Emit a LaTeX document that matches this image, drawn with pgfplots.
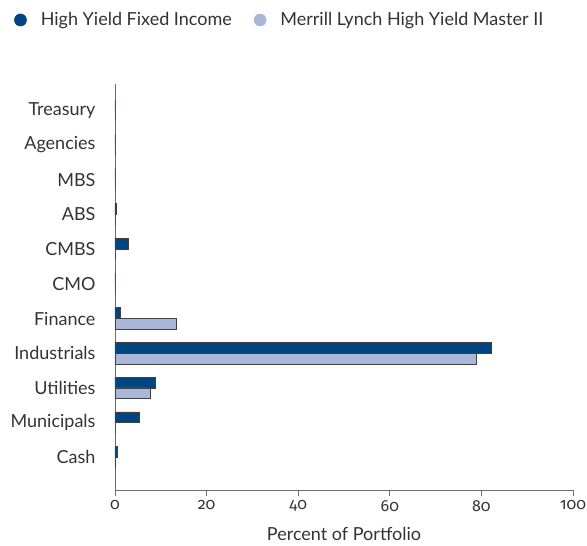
\documentclass[border=0pt]{standalone}
\usepackage{pgfplots}
\pgfplotsset{compat=1.18}
\usepackage{fontspec}
\setmainfont{Lato}
\newfontfamily\tickfont[Numbers=OldStyle]{Fira Sans}
\definecolor{hyfi}{RGB}{0,69,128}
\definecolor{mlhy}{RGB}{169,184,216}
\definecolor{txt}{RGB}{51,51,51}
\definecolor{axc}{RGB}{110,110,110}
\begin{document}
\begin{tikzpicture}
\begin{axis}[
  name=ax,
  scale only axis,
  width=458bp, height=406bp,
  xmin=0, xmax=100,
  ymin=-0.94, ymax=10.76,
  xbar,
  bar width=10.8bp,
  axis lines=left,
  axis line style={-, draw=axc, line width=0.8bp},
  xtick={0,20,40,60,80,100},
  xtick pos=bottom,
  tick align=outside,
  major tick length=6bp,
  xtick style={draw=axc, line width=0.8bp},
  ytick={0,...,10},
  yticklabels={Cash,Municipals,Utilities,Industrials,Finance,CMO,CMBS,ABS,MBS,Agencies,Treasury},
  ytick style={draw=none},
  yticklabel style={xshift=-10bp, font=\fontsize{18bp}{21bp}\selectfont, text=txt},
  /pgf/number format/assume math mode=true,
  xticklabel style={yshift=-1bp, font=\tickfont\fontsize{16bp}{19bp}\selectfont, text=txt},
  xlabel={Percent of Portfolio},
  xlabel style={font=\fontsize{18bp}{21bp}\selectfont, text=txt, yshift=-9bp},
  legend style={draw=none, fill=none, at={(-104bp,470bp)}, anchor=west,
    font=\fontsize{18bp}{21bp}\selectfont, text=txt, column sep=12bp,
    /tikz/every even column/.append style={column sep=20bp}},
  legend columns=2,
  legend cell align=left,
]
\addplot[fill=hyfi, draw=black!75, line width=0.6bp, bar shift=5.4bp,
  legend image code/.code={\fill[hyfi] (0.3cm+2bp,0cm) circle (6bp);}]
  coordinates {(0.5,0) (5.2,1) (8.7,2) (82.2,3) (1.1,4) (0,5) (3.0,6) (0.2,7) (0,8) (0,9) (0,10)};
\addlegendentry{High Yield Fixed Income}
\addplot[fill=mlhy, draw=black!75, line width=0.6bp, bar shift=-5.4bp,
  legend image code/.code={\fill[mlhy] (0.3cm+2bp,0cm) circle (6bp);}]
  coordinates {(0.1,0) (0,1) (7.6,2) (78.9,3) (13.4,4) (0,5) (0,6) (0,7) (0,8) (0,9) (0,10)};
\addlegendentry{Merrill Lynch High Yield Master II}
\end{axis}
\pgfresetboundingbox
\useasboundingbox (ax.south west) ++(-115bp,-56bp) rectangle ++(587bp,546bp);
\end{tikzpicture}
\end{document}
